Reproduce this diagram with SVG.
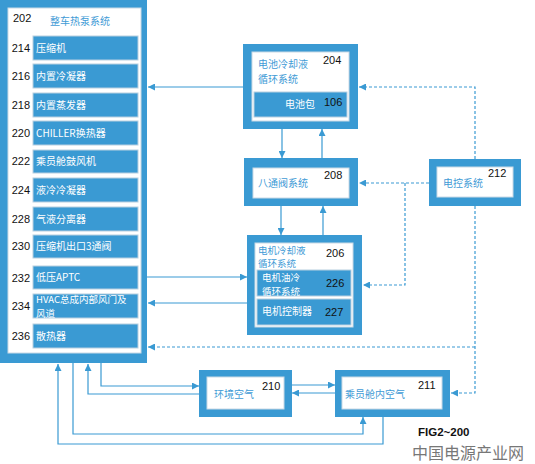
<svg xmlns="http://www.w3.org/2000/svg" width="535" height="464" viewBox="0 0 535 464">
<defs>
<marker id="ah" viewBox="0 0 10 10" refX="10" refY="5" markerWidth="7" markerHeight="7" markerUnits="userSpaceOnUse" orient="auto"><path d="M0,0 L10,5 L0,10 z" fill="#3a9ad3"/></marker>
<style>
.ob{fill:#3a9ad3;}
.ib{fill:#fff;stroke:#c9d9e6;stroke-width:1;}
.sb{fill:#3a9ad3;stroke:#b8cfe0;stroke-width:1;}
.t{font-family:"Noto Sans CJK SC","Liberation Sans",sans-serif;font-size:10px;fill:#3f9bd6;}
.w{font-family:"Noto Sans CJK SC","Liberation Sans",sans-serif;font-size:10px;fill:#fff;}
.s{font-size:9.5px;}
.n{font-family:"Liberation Sans","Noto Sans",sans-serif;font-size:11px;fill:#111;}
.c{fill:none;stroke:#3a9ad3;stroke-width:1.2;}
.d{fill:none;stroke:#3a9ad3;stroke-width:1.2;stroke-dasharray:3,2;}
</style>
</defs>
<rect width="535" height="464" fill="#fff"/>

<g id="n202">
<rect class="ob" x="0" y="0" width="147" height="363"/>
<rect class="ib" x="8" y="8" width="133" height="345"/>
<text class="n" x="13" y="22">202</text>
<text class="t" x="50" y="25">整车热泵系统</text>
</g>
<g id="n214"><rect class="sb" x="33" y="36" width="105" height="24"/><text class="n" x="30" y="52" text-anchor="end">214</text><text class="w" x="36" y="52">压缩机</text></g>
<g id="n216"><rect class="sb" x="33" y="64" width="105" height="24"/><text class="n" x="30" y="80" text-anchor="end">216</text><text class="w" x="36" y="80">内置冷凝器</text></g>
<g id="n218"><rect class="sb" x="33" y="93" width="105" height="24"/><text class="n" x="30" y="109" text-anchor="end">218</text><text class="w" x="36" y="109">内置蒸发器</text></g>
<g id="n220"><rect class="sb" x="33" y="121" width="105" height="24"/><text class="n" x="30" y="137" text-anchor="end">220</text><text class="w" x="36" y="137">CHILLER换热器</text></g>
<g id="n222"><rect class="sb" x="33" y="150" width="105" height="23"/><text class="n" x="30" y="165" text-anchor="end">222</text><text class="w" x="36" y="165">乘员舱鼓风机</text></g>
<g id="n224"><rect class="sb" x="33" y="178" width="105" height="24"/><text class="n" x="30" y="194" text-anchor="end">224</text><text class="w" x="36" y="194">液冷冷凝器</text></g>
<g id="n228"><rect class="sb" x="33" y="207" width="105" height="24"/><text class="n" x="30" y="223" text-anchor="end">228</text><text class="w" x="36" y="223">气液分离器</text></g>
<g id="n230"><rect class="sb" x="33" y="235" width="105" height="23"/><text class="n" x="30" y="250" text-anchor="end">230</text><text class="w" x="36" y="250">压缩机出口3通阀</text></g>
<g id="n232"><rect class="sb" x="33" y="266" width="105" height="23"/><text class="n" x="30" y="282" text-anchor="end">232</text><text class="w" x="36" y="281">低压APTC</text></g>
<g id="n234"><rect class="sb" x="33" y="294" width="105" height="24"/><text class="n" x="30" y="310" text-anchor="end">234</text><text class="w s" x="36" y="303">HVAC总成内部风门及</text><text class="w s" x="36" y="316.5">风道</text></g>
<g id="n236"><rect class="sb" x="33" y="324" width="105" height="24"/><text class="n" x="30" y="340" text-anchor="end">236</text><text class="w" x="36" y="340">散热器</text></g>

<g id="n204">
<rect class="ob" x="243" y="44" width="115" height="85"/>
<rect class="ib" x="252" y="52" width="97" height="69"/>
<text class="t" x="258" y="68">电池冷却液</text>
<text class="t" x="258" y="83">循环系统</text>
<text class="n" x="323" y="64">204</text>
</g>
<g id="n106">
<rect class="sb" x="254" y="92" width="93" height="25"/>
<text class="w" x="285" y="108">电池包</text>
<text class="n" x="324" y="106">106</text>
</g>

<g id="n208">
<rect class="ob" x="244" y="158" width="114" height="48"/>
<rect class="ib" x="253" y="168" width="96" height="30"/>
<text class="t" x="258" y="187">八通阀系统</text>
<text class="n" x="324" y="179">208</text>
</g>

<g id="n206">
<rect class="ob" x="247" y="235" width="115" height="100"/>
<rect class="ib" x="255" y="243" width="98" height="84"/>
<text class="t s" x="258" y="254">电机冷却液</text>
<text class="t s" x="258" y="267">循环系统</text>
<text class="n" x="326" y="257">206</text>
</g>
<g id="n226">
<rect class="sb" x="257" y="270" width="94" height="26"/>
<text class="w s" x="262" y="281">电机油冷</text>
<text class="w s" x="262" y="294.5">循环系统</text>
<text class="n" x="326" y="287">226</text>
</g>
<g id="n227">
<rect class="sb" x="257" y="299" width="94" height="26"/>
<text class="w" x="262" y="315">电机控制器</text>
<text class="n" x="325" y="316">227</text>
</g>

<g id="n212">
<rect class="ob" x="429" y="159" width="92" height="47"/>
<rect class="ib" x="437" y="167" width="76" height="30"/>
<text class="t" x="443" y="187">电控系统</text>
<text class="n" x="488" y="177">212</text>
</g>

<g id="n210">
<rect class="ob" x="199" y="370" width="93" height="47"/>
<rect class="ib" x="207" y="377" width="77" height="32"/>
<text class="t" x="214" y="398">环境空气</text>
<text class="n" x="262" y="390">210</text>
</g>

<g id="n211">
<rect class="ob" x="335" y="370" width="115" height="47"/>
<rect class="ib" x="342" y="377" width="100" height="32"/>
<text class="t" x="345" y="398">乘员舱内空气</text>
<text class="n" x="418" y="389">211</text>
</g>

<g id="connectors">
<path class="c" d="M243,87 L148,87" marker-end="url(#ah)"/>
<path class="c" d="M282,129 L282,158" marker-end="url(#ah)"/>
<path class="c" d="M322,158 L322,129" marker-end="url(#ah)"/>
<path class="c" d="M281,206 L281,235" marker-end="url(#ah)"/>
<path class="c" d="M323,235 L323,206" marker-end="url(#ah)"/>
<path class="c" d="M147,277 L247,277" marker-end="url(#ah)"/>
<path class="c" d="M247,303 L148,303" marker-end="url(#ah)"/>
<path class="c" d="M292,385 L335,385" marker-end="url(#ah)"/>
<path class="c" d="M335,393 L292,393" marker-end="url(#ah)"/>
<path class="c" d="M101,363 L101,386 L199,386" marker-end="url(#ah)"/>
<path class="c" d="M199,394 L88,394 L88,364" marker-end="url(#ah)"/>
<path class="c" d="M73,363 L73,434 L363,434 L363,417" marker-end="url(#ah)"/>
<path class="c" d="M383,417 L383,444 L58,444 L58,364" marker-end="url(#ah)"/>
<path class="d" d="M475,159 L475,87 L359,87" marker-end="url(#ah)"/>
<path class="d" d="M429,183 L359,183" marker-end="url(#ah)"/>
<path class="d" d="M405,183 L405,285 L363,285" marker-end="url(#ah)"/>
<path class="d" d="M475,206 L475,393 L451,393" marker-end="url(#ah)"/>
<path class="d" d="M475,347 L148,347" marker-end="url(#ah)"/>
</g>

<text x="418" y="436" font-family="Liberation Sans, sans-serif" font-size="11.5" font-weight="bold" fill="#111">FIG2~200</text>
<text x="412" y="459" font-family="Noto Sans CJK SC, sans-serif" font-size="16" fill="#777">中国电源产业网</text>
</svg>
